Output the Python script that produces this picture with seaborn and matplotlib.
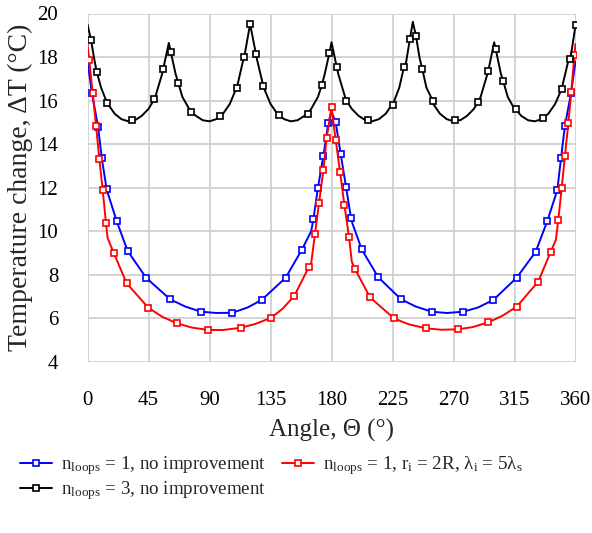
import numpy as np
import pandas as pd
import matplotlib
matplotlib.use("Agg")
import matplotlib.pyplot as plt
from matplotlib.lines import Line2D
import seaborn as sns

# ---------------- data ----------------
# n_loops = 1, no improvement (blue): curve vertices and marker points
blue_line_angle = [0, 72, 95, 118, 165, 180, 195.5, 242, 265, 288, 360]
blue_line_dT = [17.8, 6.55, 6.25, 6.5, 10.0, 15.5, 10.35, 6.55, 6.25, 6.5, 17.8]
blue_mark_angle = [3.3, 7.8, 10.5, 14.1, 21.5, 29.6, 43.2, 60.9, 83.5, 106.8, 128.5, 146.2,
                   158, 166.6, 170, 174, 177.6, 183.1, 186.8, 190.7, 194.4, 202.3, 214.5,
                   231.3, 253.9, 277.2, 299.4, 316.6, 330.6, 339.2, 346.6, 349.3, 352.2, 356.7]
blue_mark_dT = [16.34, 14.8, 13.38, 11.93, 10.47, 9.1, 7.87, 6.88, 6.31, 6.26, 6.85, 7.87,
                9.14, 10.55, 12.0, 13.46, 14.96, 15.0, 13.54, 12.05, 10.6, 9.17, 7.89,
                6.88, 6.31, 6.31, 6.85, 7.87, 9.06, 10.47, 11.9, 13.35, 14.85, 16.34]

# n_loops = 1, r_i = 2R, lambda_i = 5 lambda_s (red)
red_line_angle = [0, 14.8, 55, 77, 100, 124, 144, 165, 195, 237, 261, 284, 306, 345.5, 360]
red_line_dT = [18.6, 9.7, 6.08, 5.58, 5.47, 5.75, 6.45, 8.52, 8.6, 5.73, 5.48, 5.6, 6.12, 9.6, 18.6]
red_mark_angle = [1.3, 3.8, 6.3, 8.7, 11.2, 13.6, 19.5, 28.9, 44.9, 65.8, 89.1, 113, 135.4,
                  152.6, 163.4, 167.8, 170.8, 174, 176.4, 180, 183.1, 186.3, 189.5, 192.9,
                  197.3, 208.4, 226.1, 249.5, 273.1, 295.7, 316.6, 332.5, 341.7, 347.3,
                  349.8, 352.2, 354.7, 356.9, 359.2]
red_mark_dT = [17.85, 16.35, 14.85, 13.33, 11.9, 10.4, 8.99, 7.61, 6.49, 5.78, 5.47, 5.57, 6.03,
               7.04, 8.37, 9.88, 11.31, 12.81, 14.27, 15.7, 14.19, 12.74, 11.21, 9.75,
               8.27, 6.97, 6.0, 5.55, 5.5, 5.82, 6.54, 7.69, 9.06, 10.52,
               11.97, 13.47, 14.96, 16.4, 18.1]

# n_loops = 3, no improvement (black)
black_line_angle = list(range(0, 360, 5))
black_line_dT = [19.5, 17.9, 16.6, 15.85, 15.4, 15.15, 15.05, 15.1, 15.3, 15.62, 16.17, 17.22,
                 18.65, 17.22, 16.17, 15.62, 15.3, 15.1, 15.05, 15.15, 15.4, 15.85, 16.6, 17.9,
                 19.5, 17.9, 16.6, 15.85, 15.4, 15.15, 15.05, 15.1, 15.3, 15.62, 16.17, 17.22,
                 18.68, 17.22, 16.17, 15.62, 15.3, 15.1, 15.05, 15.15, 15.4, 15.85, 16.6, 17.75,
                 19.62, 17.95, 16.6, 15.85, 15.4, 15.15, 15.05, 15.1, 15.3, 15.62, 16.17, 17.22,
                 18.68, 17.22, 16.17, 15.62, 15.3, 15.1, 15.05, 15.15, 15.4, 15.85, 16.6, 17.9]
black_mark_angle = [2.6, 6.8, 14.4, 32.6, 49.3, 55.9, 61.4, 67.0, 76.3, 97.7, 110.1, 115.7, 119.9,
                    124.3, 129.7, 141.3, 162.4, 172.8, 178.4, 183.8, 191.0, 206.7, 225.1, 233.5,
                    237.9, 242.3, 247, 254.7, 271.1, 288.3, 295.7, 301.1, 306.7, 315.9, 336.2,
                    349.8, 356.2, 360]
black_mark_dT = [18.78, 17.33, 15.9, 15.11, 16.06, 17.47, 18.25, 16.8, 15.5, 15.29, 16.57, 18.02, 19.5,
                 18.13, 16.67, 15.35, 15.4, 16.7, 18.17, 17.56, 16.0, 15.11, 15.8, 17.55,
                 18.85, 18.97, 17.45, 16.0, 15.11, 15.95, 17.38, 18.37, 16.9, 15.6, 15.22,
                 16.53, 17.9, 19.45]

labels = [r"n$\mathregular{_{loops}}$ = 1, no improvement",
          r"n$\mathregular{_{loops}}$ = 1, r$\mathregular{_i}$ = 2R, λ$\mathregular{_i}$ = 5λ$\mathregular{_s}$",
          r"n$\mathregular{_{loops}}$ = 3, no improvement"]
xticks = list(range(0, 361, 45))
yticks = list(range(4, 21, 2))


def build(line_a, line_v, mark_a, mark_v):
    df = pd.DataFrame({"angle": list(line_a) + list(mark_a),
                       "dT": list(line_v) + list(mark_v),
                       "mark": [False] * len(line_a) + [True] * len(mark_a)})
    df = df.sort_values(["angle", "mark"], ascending=[True, False])
    df = df.drop_duplicates("angle").reset_index(drop=True)
    return df


# ---------------- style ----------------
sns.set_theme(style="white")
plt.rcParams["font.family"] = ["Liberation Serif", "DejaVu Serif"]
plt.rcParams["mathtext.fontset"] = "custom"
plt.rcParams["mathtext.rm"] = "Liberation Serif"

grid_c = "#d0d0d0"
fig = plt.figure(figsize=(5.92, 5.33), dpi=100)
ax = fig.add_axes([87.5 / 592, 1 - 362 / 533, 488 / 592, 348.5 / 533])

style = dict(marker="s", markersize=4.6, markeredgewidth=1.2, markerfacecolor="white",
             linewidth=1.4)
series = [
    (build(blue_line_angle, blue_line_dT, blue_mark_angle, blue_mark_dT), "#0000ff"),
    (build(red_line_angle, red_line_dT, red_mark_angle, red_mark_dT), "#ff0000"),
    (build(black_line_angle, black_line_dT, black_mark_angle, black_mark_dT), "black"),
]
handles = []
for df, col in series:
    sns.lineplot(data=df, x="angle", y="dT", ax=ax, color=col, markeredgecolor=col,
                 markevery=df["mark"].tolist(), sort=False, estimator=None,
                 legend=False, **style)
    handles.append(Line2D([], [], color=col, markeredgecolor=col, **style))

ax.set_xlim(0, 360)
ax.set_ylim(4, 20)
ax.set_xticks(xticks)
ax.set_yticks(yticks)
ax.grid(True, color=grid_c, linewidth=1.3)
ax.set_axisbelow(True)
for s in ax.spines.values():
    s.set_visible(False)
ax.tick_params(axis="both", which="both", direction="out", length=6, width=1.3,
               color=grid_c, labelsize=15, pad=15, labelcolor="black")
ax.set_xlabel("Angle, Θ (°)", fontsize=18, labelpad=6)
ax.set_ylabel("Temperature change, ΔT (°C)", fontsize=20)
ax.yaxis.set_label_coords(-0.112, 0.5)

leg = fig.legend(handles=[handles[0], handles[2], handles[1]],
                 labels=[labels[0], labels[2], labels[1]],
                 loc="upper left", bbox_to_anchor=(20 / 592, 1 - 454 / 533), ncol=2,
                 frameon=False, fontsize=13.7, handlelength=1.7, handletextpad=0.47,
                 columnspacing=0.8, labelspacing=0.14, borderpad=0, borderaxespad=0)

fig.savefig("out.png", dpi=100)
